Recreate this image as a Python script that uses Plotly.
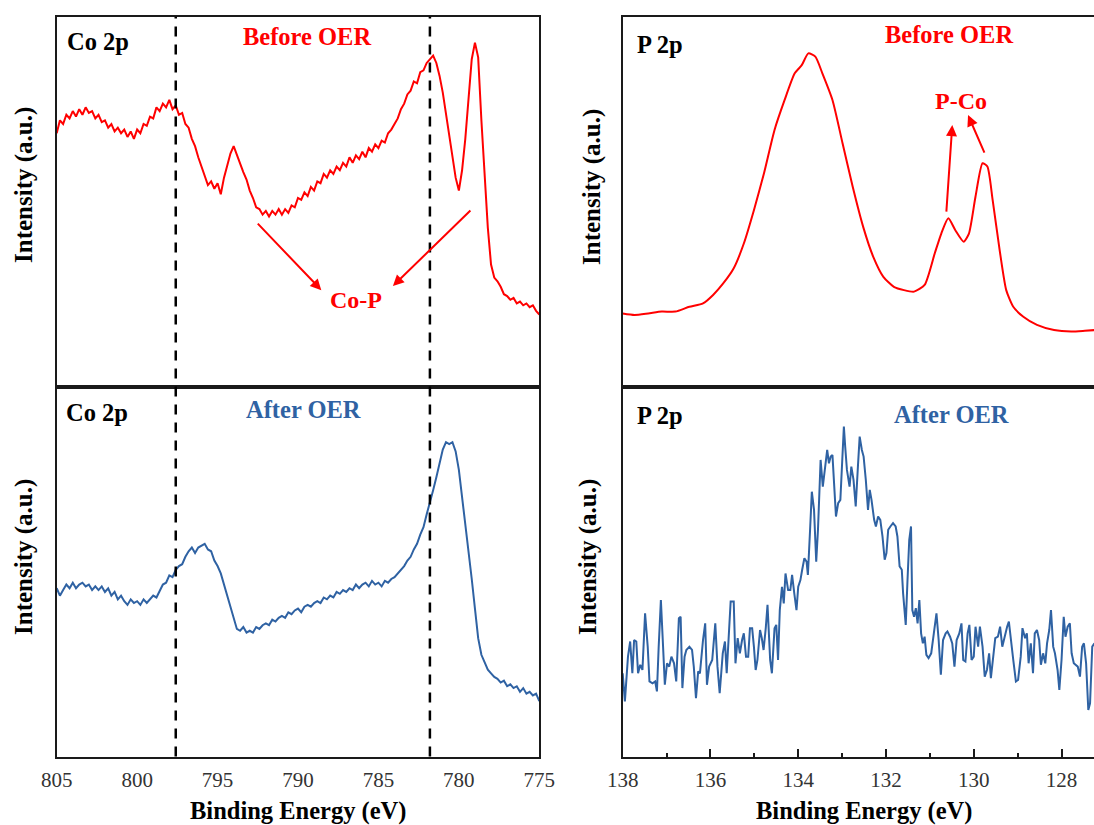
import plotly.graph_objects as go

# ---------------- data ----------------
co_energy = [
    805.0, 804.8, 804.6, 804.4, 804.2, 804.0, 803.8, 803.6, 803.4, 803.2,
    803.0, 802.8, 802.6, 802.4, 802.2, 802.0, 801.8, 801.6, 801.4, 801.2,
    801.0, 800.8, 800.6, 800.4, 800.2, 800.0, 799.8, 799.6, 799.4, 799.2,
    799.0, 798.8, 798.6, 798.4, 798.2, 798.0, 797.8, 797.6, 797.4, 797.2,
    797.0, 796.8, 796.6, 796.4, 796.2, 796.0, 795.8, 795.6, 795.4, 795.2,
    795.0, 794.8, 794.6, 794.4, 794.2, 794.0, 793.8, 793.6, 793.4, 793.2,
    793.0, 792.8, 792.6, 792.4, 792.2, 792.0, 791.8, 791.6, 791.4, 791.2,
    791.0, 790.8, 790.6, 790.4, 790.2, 790.0, 789.8, 789.6, 789.4, 789.2,
    789.0, 788.8, 788.6, 788.4, 788.2, 788.0, 787.8, 787.6, 787.4, 787.2,
    787.0, 786.8, 786.6, 786.4, 786.2, 786.0, 785.8, 785.6, 785.4, 785.2,
    785.0, 784.8, 784.6, 784.4, 784.2, 784.0, 783.8, 783.6, 783.4, 783.2,
    783.0, 782.8, 782.6, 782.4, 782.2, 782.0, 781.8, 781.6, 781.4, 781.2,
    781.0, 780.8, 780.6, 780.4, 780.2, 780.0, 779.8, 779.6, 779.4, 779.2,
    779.0, 778.8, 778.6, 778.4, 778.2, 778.0, 777.8, 777.6, 777.4, 777.2,
    777.0, 776.8, 776.6, 776.4, 776.2, 776.0, 775.8, 775.6, 775.4, 775.2,
    775.0,
]

co_before = [
    68.5, 72.0, 71.0, 73.5, 72.5, 74.5, 73.0, 75.0, 73.5, 75.5,
    74.0, 74.5, 72.5, 73.5, 71.5, 72.0, 70.0, 71.0, 69.0, 70.0,
    68.5, 69.5, 67.5, 69.0, 67.0, 69.5, 68.5, 71.0, 70.5, 73.0,
    72.5, 75.5, 74.5, 76.5, 75.5, 77.5, 75.0, 76.0, 73.5, 74.0,
    71.0, 70.0, 67.0, 65.0, 62.0, 59.5, 57.0, 54.5, 55.5, 53.5,
    55.0, 52.0, 56.5, 60.0, 63.0, 65.0, 62.5, 60.5, 58.0, 56.0,
    53.0, 51.0, 48.5, 48.0, 46.5, 47.5, 46.0, 47.5, 46.5, 48.0,
    46.5, 48.0, 47.0, 49.0, 48.5, 51.0, 50.5, 52.5, 51.5, 54.0,
    53.0, 55.5, 55.0, 57.5, 56.5, 58.5, 57.5, 59.5, 58.5, 60.5,
    59.5, 62.0, 60.5, 62.5, 61.5, 63.5, 62.0, 64.5, 63.5, 65.5,
    64.5, 66.5, 66.0, 68.5, 69.5, 71.0, 72.5, 75.0, 76.5, 79.0,
    80.0, 82.5, 82.0, 85.0, 85.5, 87.5, 88.5, 89.5, 87.5, 84.0,
    79.5, 74.0, 68.0, 62.5, 56.5, 53.0, 58.5, 67.0, 77.0, 88.5,
    93.0, 89.0, 72.0, 57.0, 43.0, 33.0, 29.5, 28.5, 27.0, 25.0,
    24.5, 23.5, 24.0, 22.5, 23.0, 22.0, 22.5, 21.5, 22.0, 20.5,
    19.5,
]

co_after = [
    45.5, 43.5, 45.0, 46.5, 45.5, 47.0, 45.5, 46.5, 47.0, 46.0,
    46.5, 45.0, 46.0, 45.0, 46.0, 44.5, 45.5, 43.5, 44.5, 42.5,
    43.5, 42.0, 41.0, 42.5, 41.5, 42.0, 41.0, 42.5, 41.5, 42.5,
    43.5, 43.0, 45.0, 46.5, 47.0, 49.0, 48.5, 50.5, 51.5, 52.0,
    54.0, 55.5, 56.5, 55.0, 56.5, 57.0, 57.5, 56.0, 55.5, 53.0,
    51.5, 49.5, 46.5, 44.0, 40.5, 37.5, 34.5, 34.0, 35.0, 33.5,
    34.0, 33.5, 35.0, 34.5, 35.5, 36.0, 35.5, 37.0, 36.5, 37.5,
    38.0, 37.5, 39.0, 38.5, 39.5, 40.0, 39.0, 40.5, 41.0, 40.5,
    41.5, 42.0, 41.5, 43.0, 42.5, 43.5, 43.0, 44.5, 44.0, 45.0,
    44.5, 45.5, 45.0, 46.5, 45.5, 46.5, 47.0, 46.0, 47.5, 46.5,
    47.0, 46.0, 47.5, 47.0, 48.0, 48.5, 49.5, 50.5, 51.5, 53.0,
    54.0, 56.0, 57.5, 60.0, 62.0, 65.5, 68.5, 72.0, 75.5, 79.5,
    83.0, 85.0, 84.5, 85.0, 82.5, 77.5, 70.5, 62.0, 56.5, 48.0,
    40.0, 32.0, 27.5, 25.5, 23.5, 22.5, 21.5, 21.0, 20.0, 20.5,
    19.0, 19.5, 18.5, 19.0, 17.5, 18.5, 17.0, 17.5, 16.5, 17.0,
    15.0,
]

p_before_energy = [
    138.00, 137.73, 137.42, 137.11, 136.80, 136.48, 136.17, 135.94, 135.71, 135.47,
    135.24, 135.01, 134.78, 134.54, 134.31, 134.08, 133.92, 133.77, 133.61, 133.45,
    133.22, 132.99, 132.76, 132.52, 132.29, 132.06, 131.82, 131.59, 131.36, 131.12,
    130.89, 130.74, 130.58, 130.42, 130.23, 130.11, 129.96, 129.80, 129.69, 129.57,
    129.41, 129.26, 129.10, 128.87, 128.56, 128.17, 127.78, 127.47, 127.25,
]
p_before = [
    19.8, 19.4, 19.8, 20.3, 20.3, 21.6, 22.5, 24.8, 27.9, 32.0,
    38.7, 47.7, 57.7, 69.4, 77.5, 84.7, 86.9, 90.1, 89.2, 84.7,
    77.5, 65.8, 54.1, 43.2, 35.1, 29.7, 27.0, 26.1, 25.7, 27.5,
    36.0, 41.4, 45.5, 42.3, 39.2, 41.4, 51.4, 60.4, 59.5, 50.5,
    36.9, 26.1, 21.6, 18.9, 16.7, 15.3, 14.9, 15.1, 15.3,
]

p_after_energy = [
    138.00, 137.95, 137.88, 137.83, 137.78, 137.74, 137.69, 137.65, 137.60, 137.55,
    137.49, 137.43, 137.39, 137.32, 137.26, 137.22, 137.18, 137.13, 137.08, 137.04,
    136.99, 136.94, 136.89, 136.83, 136.78, 136.72, 136.68, 136.64, 136.59, 136.55,
    136.48, 136.42, 136.38, 136.33, 136.28, 136.24, 136.17, 136.12, 136.08, 136.03,
    135.96, 135.89, 135.84, 135.79, 135.72, 135.67, 135.63, 135.59, 135.54, 135.47,
    135.43, 135.38, 135.33, 135.28, 135.24, 135.19, 135.14, 135.10, 135.05, 135.01,
    134.97, 134.93, 134.87, 134.83, 134.79, 134.74, 134.70, 134.64, 134.60, 134.54,
    134.50, 134.46, 134.42, 134.37, 134.33, 134.29, 134.23, 134.18, 134.14, 134.09,
    134.04, 134.00, 133.95, 133.91, 133.86, 133.81, 133.78, 133.73, 133.69, 133.64,
    133.59, 133.55, 133.49, 133.44, 133.39, 133.34, 133.30, 133.26, 133.22, 133.18,
    133.14, 133.09, 133.04, 133.00, 132.96, 132.93, 132.89, 132.83, 132.79, 132.74,
    132.69, 132.64, 132.60, 132.55, 132.51, 132.46, 132.41, 132.37, 132.33, 132.27,
    132.23, 132.18, 132.13, 132.08, 132.03, 131.99, 131.95, 131.90, 131.84, 131.78,
    131.74, 131.69, 131.64, 131.61, 131.55, 131.51, 131.47, 131.43, 131.40, 131.36,
    131.32, 131.28, 131.24, 131.20, 131.16, 131.12, 131.08, 131.03, 130.97, 130.91,
    130.85, 130.80, 130.75, 130.70, 130.64, 130.60, 130.54, 130.49, 130.44, 130.39,
    130.33, 130.28, 130.24, 130.19, 130.14, 130.10, 130.05, 130.00, 129.96, 129.90,
    129.86, 129.80, 129.75, 129.70, 129.65, 129.61, 129.55, 129.51, 129.45, 129.40,
    129.35, 129.30, 129.24, 129.20, 129.14, 129.10, 129.04, 128.99, 128.93, 128.89,
    128.83, 128.79, 128.75, 128.70, 128.65, 128.61, 128.56, 128.51, 128.47, 128.42,
    128.37, 128.33, 128.28, 128.24, 128.19, 128.15, 128.09, 128.05, 128.00, 127.95,
    127.91, 127.86, 127.81, 127.77, 127.72, 127.67, 127.63, 127.58, 127.53, 127.49,
    127.44, 127.39, 127.35, 127.30, 127.25,
]
p_after = [
    22.5, 14.9, 27.0, 31.1, 22.5, 31.5, 31.1, 22.5, 24.8, 23.4,
    38.7, 29.7, 20.3, 19.8, 20.3, 17.6, 29.7, 42.3, 29.7, 19.4,
    25.2, 24.3, 27.0, 25.2, 20.3, 37.4, 37.8, 18.5, 27.0, 28.8,
    29.7, 28.8, 24.3, 15.8, 23.0, 22.5, 31.5, 36.0, 19.4, 24.3,
    26.1, 36.0, 24.3, 17.1, 27.9, 31.1, 22.5, 30.6, 41.9, 41.9,
    25.2, 32.0, 27.9, 31.5, 33.3, 27.0, 27.0, 34.7, 34.7, 29.7,
    23.4, 26.1, 34.2, 32.0, 28.8, 34.7, 41.0, 26.1, 22.5, 34.7,
    35.6, 26.1, 39.6, 45.9, 41.4, 49.5, 45.0, 45.0, 49.1, 44.1,
    39.6, 45.9, 47.7, 50.5, 53.6, 52.7, 49.1, 61.3, 71.6, 66.7,
    52.7, 61.3, 80.2, 73.0, 78.8, 82.9, 79.3, 81.1, 81.5, 73.0,
    64.9, 68.5, 69.4, 79.3, 89.2, 83.8, 77.5, 73.0, 78.4, 74.8,
    67.6, 78.4, 86.5, 82.9, 81.1, 74.8, 66.7, 72.1, 69.4, 64.0,
    62.2, 64.9, 64.0, 59.5, 53.2, 55.0, 61.3, 62.2, 63.1, 62.2,
    59.5, 51.4, 50.5, 44.1, 35.6, 47.7, 58.6, 62.2, 39.6, 37.8,
    40.1, 36.0, 42.3, 33.3, 30.6, 32.4, 27.5, 26.6, 27.9, 33.3,
    38.7, 31.5, 22.1, 31.5, 33.3, 33.8, 32.4, 30.6, 24.3, 31.5,
    33.3, 36.0, 26.1, 25.7, 33.3, 35.6, 26.1, 27.0, 35.1, 29.7,
    35.1, 29.7, 21.6, 23.4, 27.9, 21.2, 27.0, 32.0, 32.4, 35.1,
    29.7, 32.4, 35.1, 36.5, 29.7, 26.1, 20.3, 20.7, 27.0, 34.7,
    32.0, 33.3, 25.2, 30.6, 22.5, 33.3, 34.2, 31.5, 24.8, 27.9,
    25.2, 30.6, 34.2, 39.6, 29.7, 27.9, 23.4, 18.0, 26.1, 37.8,
    32.4, 35.1, 36.0, 27.9, 25.2, 24.8, 24.3, 21.6, 29.7, 30.6,
    25.2, 12.6, 14.4, 29.7, 30.6,
]

co_ticks = [805, 800, 795, 790, 785, 780, 775]
p_ticks = [138, 136, 134, 132, 130, 128]
co_marker_lines = [797.6, 781.8]

assert len(co_energy) == len(co_before) == len(co_after)
assert len(p_before_energy) == len(p_before)
assert len(p_after_energy) == len(p_after)

# ---------------- style ----------------
RED = "#FF0000"
BLUE = "#2F62A3"
AXC = "#1a1a1a"
SERIF = "'Times New Roman', 'Liberation Serif', 'DejaVu Serif', serif"
W, H = 1094, 825

XL = [56.7 / W, 539.3 / W]
XR = [622.7 / W, 1.0]
Y_TOP = [1 - 386.7 / H, 1 - 16.7 / H]
Y_BOT = [1 - 756.5 / H, 1 - 386.7 / H]

fig = go.Figure()
fig.add_trace(go.Scatter(x=co_energy, y=co_before, mode="lines",
                         line=dict(color=RED, width=2), xaxis="x", yaxis="y"))
fig.add_trace(go.Scatter(x=co_energy, y=co_after, mode="lines",
                         line=dict(color=BLUE, width=2), xaxis="x2", yaxis="y2"))
fig.add_trace(go.Scatter(x=p_before_energy, y=p_before, mode="lines",
                         line=dict(color=RED, width=2, shape="spline", smoothing=0.6),
                         xaxis="x3", yaxis="y3"))
fig.add_trace(go.Scatter(x=p_after_energy, y=p_after, mode="lines",
                         line=dict(color=BLUE, width=2), xaxis="x4", yaxis="y4"))

tickfont = dict(family=SERIF, size=21, color="#333333")
base_x = dict(showgrid=False, zeroline=False, showline=True, linecolor=AXC,
              linewidth=2, mirror=True, ticks="", fixedrange=True, automargin=False)
base_y = dict(showgrid=False, zeroline=False, showline=True, linecolor=AXC,
              linewidth=2, ticks="", showticklabels=False, range=[0, 100],
              automargin=False)

fig.update_layout(
    width=W, height=H,
    margin=dict(l=0, r=0, t=0, b=0, pad=0, autoexpand=False),
    paper_bgcolor="white", plot_bgcolor="white",
    showlegend=False,
    font=dict(family=SERIF),
    xaxis=dict(base_x, domain=XL, range=[805, 775], anchor="y", showticklabels=False),
    yaxis=dict(base_y, domain=Y_TOP, anchor="x", mirror=True),
    xaxis2=dict(base_x, domain=XL, range=[805, 775], anchor="y2",
                tickmode="array", tickvals=co_ticks, ticktext=[str(t) for t in co_ticks],
                tickfont=tickfont, ticklabelstandoff=3),
    yaxis2=dict(base_y, domain=Y_BOT, anchor="x2", mirror=True),
    xaxis3=dict(base_x, domain=XR, range=[138, 127.26], anchor="y3", showticklabels=False),
    yaxis3=dict(base_y, domain=Y_TOP, anchor="x3", mirror=False),
    xaxis4=dict(base_x, domain=XR, range=[138, 127.26], anchor="y4",
                tickmode="array", tickvals=p_ticks, ticktext=[str(t) for t in p_ticks],
                ticks="inside", ticklen=8, tickwidth=2, tickcolor=AXC,
                minor=dict(ticks="inside", ticklen=4, tickwidth=2, tickcolor=AXC, dtick=1, tick0=137),
                tickfont=tickfont, ticklabelstandoff=3),
    yaxis4=dict(base_y, domain=Y_BOT, anchor="x4", mirror=False),
)

# dashed reference lines across both Co panels
for xv in co_marker_lines:
    fig.add_shape(type="line", xref="x2", yref="paper", x0=xv, x1=xv,
                  y0=Y_BOT[0], y1=Y_TOP[1],
                  line=dict(color="black", width=2.5, dash="10px,8px"))

ann = []

def txt(s, px, py, size, color="black", angle=0, bold=True):
    ann.append(dict(text=("<b>%s</b>" % s) if bold else s, x=px / W, y=1 - py / H,
                    xref="paper", yref="paper", xanchor="center", yanchor="middle",
                    showarrow=False, textangle=angle,
                    font=dict(family=SERIF, size=size, color=color)))

txt("Co 2p", 98, 42, 24.5)
txt("Co 2p", 97, 412, 24.5)
txt("Before OER", 307, 36, 24.5, RED)
txt("After OER", 303, 409, 24.5, BLUE)
txt("Co-P", 356, 300, 24, RED)
txt("P 2p", 660, 44, 24.5)
txt("P 2p", 660, 415, 24.5)
txt("Before OER", 949, 34, 24.5, RED)
txt("P-Co", 961, 101, 24, RED)
txt("After OER", 951, 414, 24.5, BLUE)
txt("Intensity (a.u.)", 24, 185, 25, angle=-90)
txt("Intensity (a.u.)", 24, 557, 25, angle=-90)
txt("Intensity (a.u.)", 592, 187, 25, angle=-90)
txt("Intensity (a.u.)", 588, 557, 25, angle=-90)
txt("Binding Energy (eV)", 298, 811, 24.5)
txt("Binding Energy (eV)", 864, 811, 24.5)

def arrow(xr, yr, x, y, ax, ay):
    ann.append(dict(text="", x=x, y=y, xref=xr, yref=yr, ax=ax, ay=ay,
                    showarrow=True, arrowhead=2, arrowsize=1.1, arrowwidth=2,
                    arrowcolor=RED, standoff=0))

arrow("x", "y", 788.55, 26.1, -65, -68)
arrow("x", "y", 784.1, 27.2, 79, -77)
arrow("x3", "y3", 130.49, 70.7, -6, 88)
arrow("x3", "y3", 130.13, 73.4, 17, 39)

fig.update_layout(annotations=ann)
fig.write_html("out.html")
